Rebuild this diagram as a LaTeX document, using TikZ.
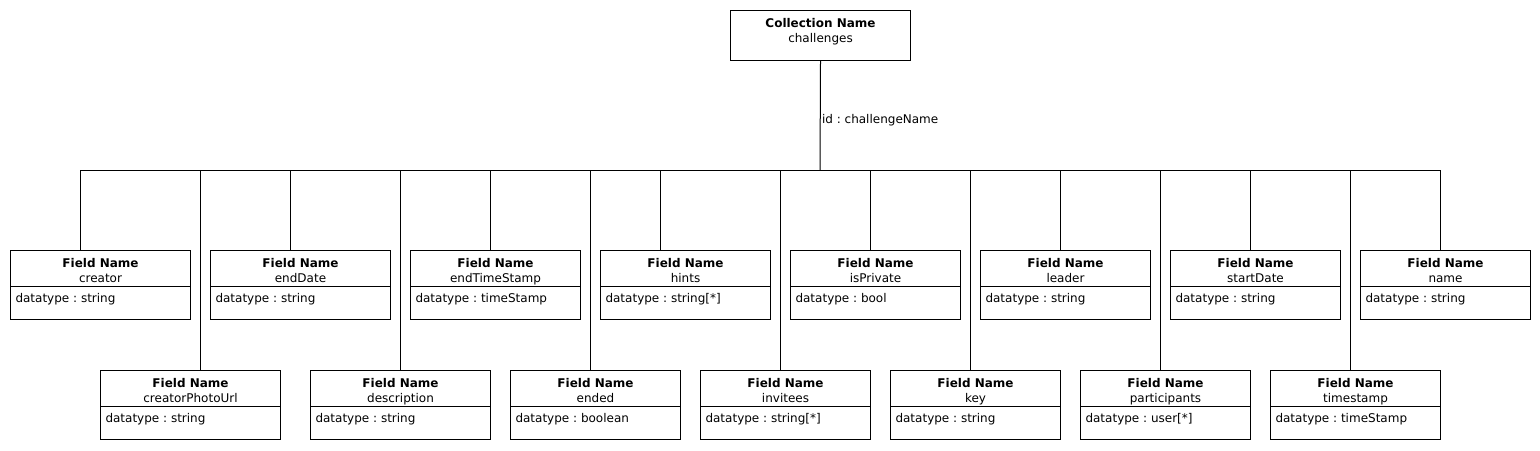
\documentclass[tikz,border=0pt]{standalone}
\usepackage{fontspec}
\setmainfont{DejaVu Sans}
\frenchspacing
\usetikzlibrary{calc, shapes.multipart}

\begin{document}
\begin{tikzpicture}[
  x=0.75pt, y=-0.75pt, line width=0.75pt,
  coll/.style={draw, anchor=north west, align=center, inner sep=0pt,
               minimum width=135pt, minimum height=37.5pt,
               font=\fontsize{9}{11.25}\selectfont},
  field/.style={draw, anchor=north west, rectangle split, rectangle split parts=2,
                rectangle split part align={center,left}, align=center,
                inner xsep=3.75pt, inner ysep=0pt,
                font=\fontsize{9}{11.25}\selectfont},
  idlabel/.style={anchor=base west, inner sep=1pt, font=\fontsize{9}{11.25}\selectfont}
]
  \useasboundingbox (0,0) rectangle (1540,450);

  % Collection
  \node[coll] (challenges) at (730,10)
    {\rule{0pt}{12.75pt}\textbf{Collection Name}\\challenges\rule[-13.5pt]{0pt}{0pt}};
  \coordinate (bus) at (820,170);
  \draw (challenges.south) -- node[idlabel, pos=0.57] {id : challengeName} (bus);

  % Fields: name/x/y/width/datatype/shift of the connector
  \foreach \fldname/\fldx/\fldy/\fldw/\fldtype/\flddx in {
      creator/10/250/180/string/-20,
      endDate/210/250/180/string/-10,
      endTimeStamp/410/250/170/timeStamp/-5,
      hints/600/250/170/string[*]/-25,
      isPrivate/790/250/170/bool/-5,
      leader/980/250/170/string/-5,
      startDate/1170/250/170/string/-5,
      name/1360/250/170/string/-5,
      creatorPhotoUrl/100/370/180/string/10,
      description/310/370/180/string/0,
      ended/510/370/170/boolean/-5,
      invitees/700/370/170/string[*]/-5,
      key/890/370/170/string/-5,
      participants/1080/370/170/user[*]/-5,
      timestamp/1270/370/170/timeStamp/-5} {
    \node[field, minimum width=\fldw*0.75pt] (\fldname) at (\fldx,\fldy)
      {\rule{0pt}{12.5pt}\textbf{Field Name}\\ \fldname\rule[-2.75pt]{0pt}{0pt}
       \nodepart{two}\rule[-12.75pt]{0pt}{24pt}datatype : \fldtype};
    \draw (bus) -| ($(\fldname.north)+(\flddx,0)$);
  }
\end{tikzpicture}
\end{document}
